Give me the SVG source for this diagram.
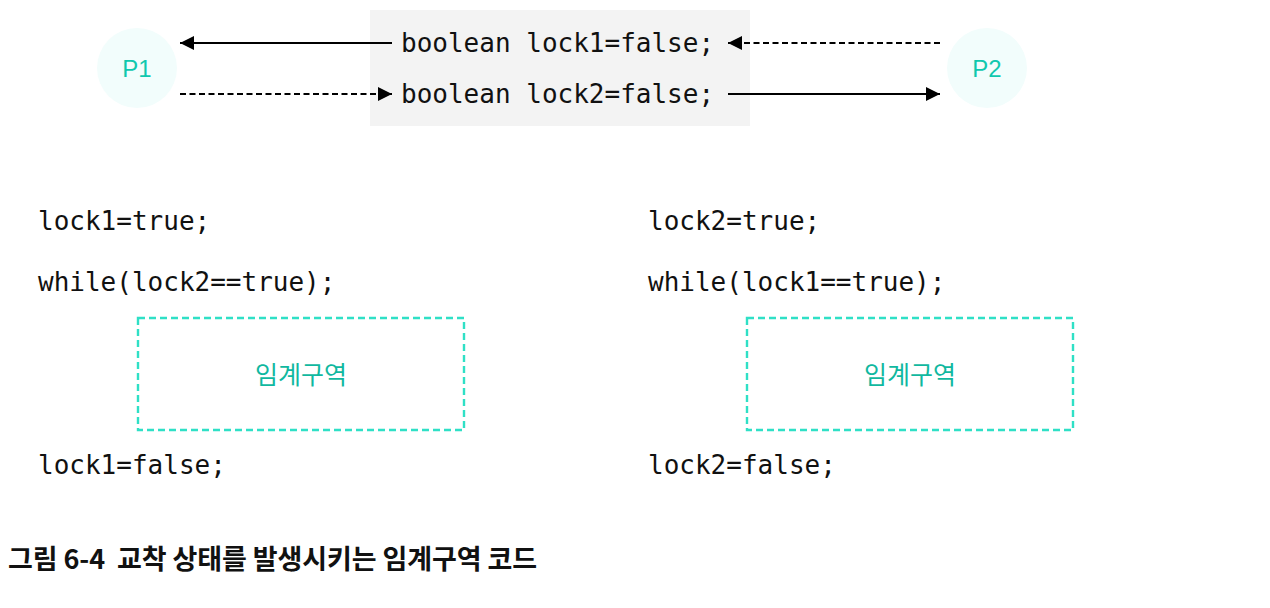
<svg xmlns="http://www.w3.org/2000/svg" width="1270" height="608" viewBox="0 0 1270 608">
<style>
.code{font-family:"DejaVu Sans Mono","Liberation Mono",monospace;font-size:26px;fill:#111}
.proc{font-family:"Liberation Sans","Noto Sans",sans-serif;font-size:24px;fill:#10c8ae}
.cs{font-family:"Noto Sans CJK KR",sans-serif;font-size:25px;fill:#10b8a0}
.box{fill:none;stroke:#2fe0c6;stroke-width:2.4;stroke-dasharray:7,4}
.solid{stroke:#000;stroke-width:2;fill:none}
.dash{stroke:#000;stroke-width:2;stroke-dasharray:6,3.5;fill:none}
.cap{font-family:"Noto Sans CJK KR",sans-serif;font-size:27px;font-weight:bold;fill:#111;white-space:pre}
</style>
<defs>
<marker id="ah" viewBox="0 0 10 10" refX="10" refY="5" markerWidth="14" markerHeight="14" markerUnits="userSpaceOnUse" orient="auto">
<path d="M0,0 L10,5 L0,10 Z" fill="#000"/>
</marker>
</defs>
<rect x="0" y="0" width="1270" height="608" fill="#fff"/>
<g id="shared">
<rect x="370" y="10" width="380" height="116" fill="#f3f3f3"/>
<text class="code" x="401" y="52">boolean lock1=false;</text>
<text class="code" x="401" y="103">boolean lock2=false;</text>
</g>
<g id="P1">
<circle cx="137" cy="68" r="40" fill="#f2fdfc"/>
<text class="proc" x="137" y="77" text-anchor="middle">P1</text>
</g>
<g id="P2">
<circle cx="987" cy="68" r="40" fill="#f2fdfc"/>
<text class="proc" x="987" y="77" text-anchor="middle">P2</text>
</g>
<g id="connectors">
<line class="solid" x1="392" y1="43" x2="180" y2="43" marker-end="url(#ah)"/>
<line class="dash" x1="180" y1="94" x2="392" y2="94" marker-end="url(#ah)"/>
<line class="dash" x1="940" y1="43" x2="728" y2="43" marker-end="url(#ah)"/>
<line class="solid" x1="728" y1="94" x2="940" y2="94" marker-end="url(#ah)"/>
</g>
<g id="left-code">
<text class="code" x="38" y="230">lock1=true;</text>
<text class="code" x="38" y="291">while(lock2==true);</text>
<text class="code" x="38" y="474">lock1=false;</text>
</g>
<g id="left-cs">
<rect class="box" x="138" y="318" width="326" height="112"/>
<text class="cs" x="301" y="384" text-anchor="middle">임계구역</text>
</g>
<g id="right-code">
<text class="code" x="648" y="230">lock2=true;</text>
<text class="code" x="648" y="291">while(lock1==true);</text>
<text class="code" x="648" y="474">lock2=false;</text>
</g>
<g id="right-cs">
<rect class="box" x="747" y="318" width="326" height="112"/>
<text class="cs" x="910" y="384" text-anchor="middle">임계구역</text>
</g>
<g id="caption">
<text class="cap" x="8" y="569" xml:space="preserve" textLength="529" lengthAdjust="spacing">그림 6-4  교착 상태를 발생시키는 임계구역 코드</text>
</g>
</svg>
